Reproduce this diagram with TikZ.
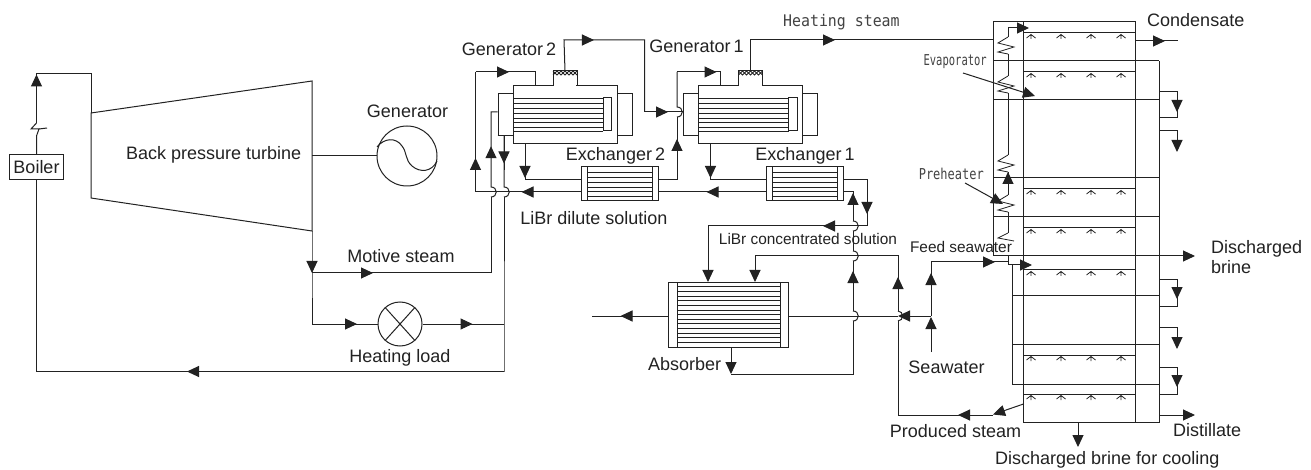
\documentclass[tikz,border=0pt]{standalone}
\usepackage{fontspec}
\setmainfont{Liberation Sans}
\newfontfamily\cadfont[FakeStretch=0.93]{DejaVu Sans Mono}
\newfontfamily\cadevap[FakeStretch=0.7]{DejaVu Sans Mono}
\newfontfamily\cadpre[FakeStretch=0.8]{DejaVu Sans Mono}
\usetikzlibrary{arrows.meta,decorations.markings,shapes.geometric}
\definecolor{ink}{HTML}{222222}
\newcommand{\hop}{.. controls +(7,0) and +(7,0) .. ++(0,-10)}
\tikzset{
  >={Triangle[length=12pt,width=11pt]},
  pipe/.style={draw=ink,line width=1pt,line join=miter},
  thinp/.style={draw=ink,line width=0.8pt},
  flowend/.style={pipe,-{Triangle[length=12pt,width=11pt,color=ink]}},
  tipat/.style={postaction={decorate,decoration={markings,mark=at position #1pt with {\arrow[ink]{>}}}}},
  lbl/.style={font=\fontsize{18}{20}\selectfont,text=ink,inner sep=0pt},
  small/.style={font=\fontsize{15.4}{18}\selectfont,text=ink,inner sep=0pt},
  cad/.style={font=\cadfont\fontsize{16}{18}\selectfont,text=ink!85,inner sep=0pt},
  cadev/.style={font=\cadevap\fontsize{15}{18}\selectfont,text=ink!85,inner sep=0pt},
  cadph/.style={font=\cadpre\fontsize{15}{18}\selectfont,text=ink!85,inner sep=0pt},
  box/.style={draw=ink,line width=1pt,inner sep=0pt,minimum width=#1},
}
\newcommand{\genunit}[2]{%
  \begin{scope}[shift={(#2,0)}]
    \node[box=104pt,minimum height=58pt] (#1) at (52,115) {};
    \node[box=15pt,minimum height=42.5pt] (#1L) at (-7.5,114.75) {};
    \node[box=15pt,minimum height=42.5pt] (#1R) at (111.5,114.75) {};
    \foreach \yy in {98,103,108,113,118,122,127,131} \draw[thinp] (0,\yy) -- (90,\yy);
    \draw[pipe] (90,98) rectangle (98.5,131);
    \draw[white,line width=2pt] (40.6,86) -- (63.4,86);
    \draw[pipe] (40,86) -- (40,71) -- (64,71) -- (64,86);
    \draw[thinp] (40,71) -- (44,75) -- (48,71) -- (52,75) -- (56,71) -- (60,75) -- (64,71);
    \draw[thinp] (40,75) -- (44,71) -- (48,75) -- (52,71) -- (56,75) -- (60,71) -- (64,75);
    \coordinate (#1dome) at (52,71);
    \coordinate (#1in) at (22,86);
    \coordinate (#1out) at (12,144);
  \end{scope}}
\newcommand{\hxunit}[2]{%
  \begin{scope}[shift={(#2,0)}]
    \node[box=77.5pt,minimum height=33.5pt] (#1) at (38.75,183.75) {};
    \draw[pipe] (6.5,167) -- (6.5,200.5) (71,167) -- (71,200.5);
    \foreach \yy in {172,177,182,187,191.5,196} \draw[thinp] (6.5,\yy) -- (71,\yy);
  \end{scope}}
\newcommand{\spraybar}[1]{%
  \draw[pipe] (1023.5,#1) -- (1135,#1);
  \foreach \xx in {1031,1061,1091,1121}
    \draw[thinp] (\xx-4.5,#1+5) -- (\xx,#1+1.5) -- (\xx+4.5,#1+5) (\xx,#1+1.5) -- (\xx,#1+6);}
\newcommand{\coil}[1]{%
  \draw[thinp] (1008,#1) -- (998,#1+6) -- (1014,#1+10) -- (998,#1+15) -- (1008,#1+17);}
\begin{document}
\begin{tikzpicture}[x=1pt,y=-1pt]
\useasboundingbox (0,0) rectangle (1311,470);
\fill[white] (0,0) rectangle (1311,470);

% boiler and turbine
\node[box=54pt,minimum height=25pt,lbl] (boiler) at (36.5,167.5) {Boiler};
\coordinate (brkTop) at (36.5,123);
\coordinate (brkBot) at (36.5,136);
\coordinate (loopL) at (36.5,73.5);
\coordinate (loopR) at (91,73.5);
\coordinate (tbA) at (91,113);
\coordinate (tbB) at (312,81);
\coordinate (tbC) at (312,231);
\coordinate (tbD) at (91,198);
\coordinate (mot) at (312,273);
\coordinate (loadIn) at (312,324);
\coordinate (retL) at (36.5,371.5);
\coordinate (retR) at (504,371.5);
\draw[pipe] (boiler.north) -- (brkBot) -- (39,129) -- (31,129) -- (brkTop);
\draw[pipe] (39,129) -- (47,128);
\draw[pipe,tipat=48.5,tipat=144.5] (brkTop) -- (loopL) -- (loopR) -- (tbA);
\draw[pipe] (tbA) -- (tbB) -- (tbC) -- (tbD) -- cycle;
\node[lbl,anchor=west] (turbine) at (126,155) {Back pressure turbine};
\node[draw=ink,line width=1pt,circle,minimum size=60pt,inner sep=0pt] (gen) at (407,156) {};
\node[lbl] (genlab) at (407.5,111) {Generator};
\draw[pipe] (312,156) -- (gen.west);
\draw[pipe] (377,147) .. controls (384,138) and (396,137) .. (402,146) .. controls (407,152) and (405,160) .. (412,166) .. controls (420,173) and (432,172) .. (437,161);
\draw[pipe,tipat=42] (tbC) -- (mot) -- (loadIn);
\node[draw=ink,line width=1pt,circle,minimum size=44pt,inner sep=0pt] (load) at (400,324) {};
\draw[pipe] (load.48) -- (load.228) (load.132) -- (load.312);
\node[lbl] (loadlab) at (400,358) {Heating load};
\node[lbl] (motlab) at (401,256) {Motive steam};
\draw[pipe,tipat=45] (loadIn) -- (load.west);
\coordinate (lj) at (504,324);
\draw[pipe,tipat=50] (load.east) -- (lj);
\draw[pipe,tipat=317] (retR) -- (retL) -- (boiler.south);

% generators and exchangers
\genunit{gtwo}{513}
\genunit{gone}{698.5}
\hxunit{hxtwo}{581}
\hxunit{hxone}{766}
\node[lbl] (g2lab) at (509,49) {\spaceskip=3pt Generator 2};
\node[lbl] (g1lab) at (696.5,46) {\spaceskip=3pt Generator 1};
\node[lbl] (x2lab) at (615.5,156) {\spaceskip=3pt Exchanger 2};
\node[lbl] (x1lab) at (805,156) {\spaceskip=3pt Exchanger 1};
\node[lbl] (dillab) at (594,218) {LiBr dilute solution};
\coordinate (m1) at (491,273);
\coordinate (m2) at (491,197);
\coordinate (m3) at (491,112);
\draw[pipe,tipat=61] (mot) -- (m1) -- (m2);
\draw[pipe,tipat=57] (m2) \hop -- (m3) -- (gtwoL.west |- m3);
\coordinate (h1) at (504,197);
\coordinate (h2) at (504,136);
\draw[pipe] (retR) -- (lj) -- (h1);
\draw[pipe] (h1) \hop -- (h2);
\draw[pipe,tipat=27.5] (h2) -- (504,170);
\draw[pipe] (gtwoL.west |- h2) -- (h2);
\coordinate (dl) at (475.5,192);
\coordinate (dt) at (475.5,72);
\coordinate (g2t) at (535,72);
\draw[pipe,tipat=59] (hxtwo.west |- dl) -- (dl);
\draw[pipe,tipat=34] (dl) -- (dt);
\draw[pipe,tipat=33.5] (dt) -- (g2t) -- (gtwoin);
\coordinate (s1) at (564,40);
\coordinate (s2) at (644.5,40);
\coordinate (s3) at (644.5,112);
\draw[pipe,tipat=61] (gtwodome) -- (s1) -- (s2) -- (s3);
\draw[pipe,tipat=23.5] (s3) -- (goneL.west |- s3);
% dilute solution path between exchanger 2 and generator 1
\coordinate (v0) at (677,180);
\coordinate (v1) at (677,117);
\coordinate (v2) at (677,72);
\coordinate (g1t) at (720.5,72);
\draw[pipe,tipat=59] (hxtwo.east |- v0) -- (v0) -- (v1);
\draw[pipe] (v1) \hop -- (v2);
\draw[pipe,tipat=39.5] (v2) -- (g1t) -- (gonein);
\coordinate (c2) at (525,180);
\draw[pipe,tipat=34] (gtwoout) -- (c2) -- (hxtwo.west |- c2);
\coordinate (c1) at (710.5,180);
\draw[pipe,tipat=34] (goneout) -- (c1) -- (hxone.west |- c1);
\coordinate (j2) at (766,192);
\draw[pipe,tipat=59] (hxone.west |- j2) -- (hxtwo.east |- j2);

% exchanger 1 to absorber
\node[box=120pt,minimum height=65pt] (abs) at (728,314.5) {};
\draw[pipe] (677,282) -- (677,347) (780,282) -- (780,347);
\foreach \yy in {286.6,291.3,295.9,300.6,305.2,309.9,314.5,319.1,323.8,328.4,333.1,337.7,342.4} \draw[thinp] (677,\yy) -- (780,\yy);
\node[lbl,anchor=west] (abslab) at (648,364) {Absorber};
\node[small] (conclab) at (808,239) {LiBr concentrated solution};
\coordinate (k1) at (867,180);
\coordinate (k2) at (867,226);
\coordinate (k3) at (708,226);
\coordinate (k4) at (708,282);
\draw[pipe,tipat=57] (hxone.east |- k1) -- (k1) -- (k2);
\draw[pipe,tipat=44] (k2) -- (k3);
\draw[flowend] (k3) -- (k4);
\coordinate (a1) at (731,347);
\coordinate (a2) at (731,374);
\coordinate (a3) at (853,374);
\coordinate (a4) at (853,321);
\coordinate (a5) at (853,311);
\coordinate (a6) at (853,261);
\coordinate (a7) at (853,251);
\coordinate (a8) at (853,231);
\coordinate (a9) at (853,221);
\coordinate (a10) at (853,192);
\draw[flowend] (a1) -- (a2);
\draw[pipe] (a2) -- (a3) -- (a4);
\draw[pipe] (a4) \hop;
\draw[pipe,tipat=40] (a5) -- (a6);
\draw[pipe] (a6) \hop;
\draw[pipe] (a7) -- (a8);
\draw[pipe] (a8) \hop;
\draw[pipe,tipat=28] (a9) -- (a10) -- (hxone.east |- a10);
\coordinate (p0) at (898,415);
\coordinate (p1) at (898,321);
\coordinate (p2) at (898,311);
\coordinate (p3) at (898,256);
\coordinate (p4) at (755,256);
\coordinate (p5) at (755,282);
\coordinate (pe) at (993,415);
\draw[pipe] (p0) -- (p1);
\draw[pipe] (p1) .. controls +(6,0) and +(6,0) .. (p2);
\draw[pipe,tipat=34] (p2) -- (p3) -- (p4);
\draw[flowend] (p4) -- (p5);
\draw[pipe,tipat=35] (pe) -- (p0);
\coordinate (ms) at (1023.5,404);
\coordinate (mt) at (993,414.5);
\draw[flowend] (ms) -- (mt);
\coordinate (w0) at (592,316);
\coordinate (w1) at (898,316);
\coordinate (w2) at (931,316);
\coordinate (w3) at (931,352);
\coordinate (w4) at (931,262);
\coordinate (w5) at (1008,262);
\draw[pipe,tipat=47] (abs.west |- w0) -- (w0);
\draw[pipe] (abs.east |- w1) -- (w1);
\draw[flowend] (w2) -- (w1);
\draw[flowend] (w3) -- (931,317);
\draw[pipe,tipat=43,tipat=118] (w2) -- (w4) -- (w5);
\node[lbl] (sealab) at (946.5,367) {Seawater};
\node[small] (feedlab) at (961,247) {Feed seawater};
\node[lbl] (prodlab) at (955.5,431) {Produced steam};

% evaporator column
\coordinate (ctl) at (993,22);
\coordinate (ctr) at (1135,22);
\coordinate (cmt) at (1023.5,22);
\coordinate (cmb) at (1023.5,422);
\coordinate (crb) at (1135,422);
\coordinate (cob) at (1159,422);
\coordinate (cot) at (1159,61);
\coordinate (clb) at (993,256);
\draw[pipe] (clb) -- (ctl) -- (ctr) -- (crb);
\draw[pipe] (cmt) -- (cmb) -- (cob) -- (cot);
\foreach \yy in {61,100,178,217} \draw[pipe] (993,\yy) -- (1159,\yy);
\foreach \yy in {295,344,384} \draw[pipe] (1012,\yy) -- (1159,\yy);
\coordinate (bo) at (1195,256);
\draw[flowend] (clb) -- (bo);
\foreach \yy in {33,72,189,228,270,355,394} {\spraybar{\yy}}
\draw[pipe,tipat=115.5] (gonedome) -- (750.5,40) -- (ctl |- 0,40);
\node[cad,anchor=west] (hslab) at (783,22) {Heating steam};
\node[lbl,anchor=west] (condlab) at (1147,20) {Condensate};
\coordinate (cd1) at (1135,41);
\coordinate (cd2) at (1178,41);
\draw[pipe,tipat=30] (cd1) -- (cd2);
% heating coil
\coordinate (e0) at (1008,37);
\coordinate (e1) at (1008,28);
\coordinate (e2) at (1029,28);
\draw[flowend] (e0) -- (e1) -- (e2);
\coil{37}\coil{76}\coil{155}\coil{195}
\draw[thinp] (1008,54) -- (1008,76) (1008,93) -- (1008,155) (1008,212) -- (1008,233);
\draw[pipe,tipat=23] (1008,195) -- (1008,172);
\draw[thinp] (1008,233) -- (998,238) -- (1014,241);
\draw[pipe] (1012,265) -- (1012,384);
\draw[flowend] (1008,256) -- (1008,265) -- (1032,265);
% labelled leaders
\node[cadev,anchor=east] (evlab) at (987,62) {Evaporator};
\node[cadph,anchor=east] (phlab) at (984,174) {Preheater};
\coordinate (evt) at (1035,96);
\coordinate (pht) at (1003,204);
\draw[flowend] (963,73) -- (evt);
\draw[flowend] (965,183) -- (pht);
% side drains
\draw[pipe,tipat=38] (1159,92) -- (1177,92) -- (1177,118) -- (1159,118);
\draw[flowend] (1159,131) -- (1177,131) -- (1177,152);
\draw[pipe,tipat=38] (1159,279) -- (1177,279) -- (1177,306) -- (1159,306);
\draw[flowend] (1159,327) -- (1177,327) -- (1177,349);
\draw[pipe,tipat=38] (1159,367) -- (1177,367) -- (1177,394) -- (1159,394);
\draw[flowend] (1159,415) -- (1195,415);
\draw[flowend] (1078,422) -- (1078,447);
\node[lbl,anchor=west] (dislab) at (1173,430) {Distillate};
\node[lbl,anchor=west] (coollab) at (995,460) {Discharged brine for cooling};
\node[lbl,anchor=west,align=left] (brlab) at (1211,257.5) {Discharged\\brine};
\end{tikzpicture}
\end{document}
